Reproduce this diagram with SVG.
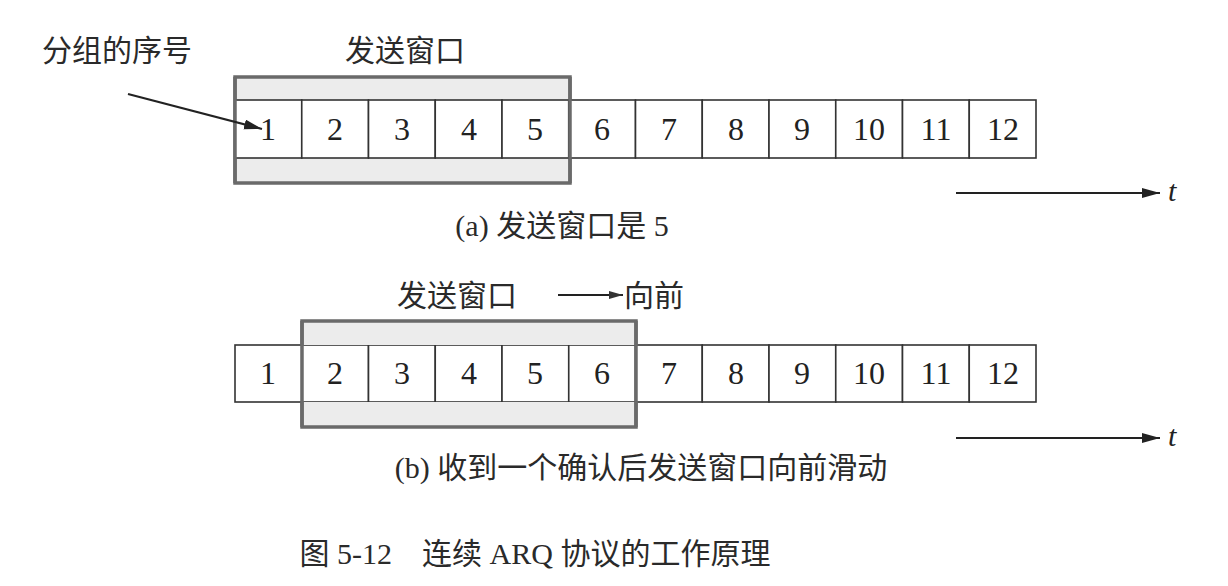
<svg xmlns="http://www.w3.org/2000/svg" width="1228" height="586" viewBox="0 0 1228 586">
<defs>
<style>
.cjk{font-family:"Liberation Serif","Noto Sans CJK SC",serif;font-size:30px;fill:#2a2a2a}
.num{font-family:"Liberation Serif",serif;font-size:32px;fill:#222;text-anchor:middle}
.cell{fill:#fff;stroke:#333;stroke-width:1.6}
.win{fill:#ececec;stroke:#6a6a6a;stroke-width:3.5}
.ln{stroke:#222;stroke-width:2.2;fill:none}
.t{font-family:"Liberation Serif",serif;font-style:italic;font-size:30px;fill:#222}
</style>
<marker id="ah" markerUnits="userSpaceOnUse" markerWidth="20" markerHeight="12" refX="18" refY="5" orient="auto">
<path d="M0,0 L18,5 L0,10 Z" fill="#222"/>
</marker>
<marker id="ahs" markerUnits="userSpaceOnUse" markerWidth="16" markerHeight="10" refX="14" refY="4" orient="auto">
<path d="M0,0 L14,4 L0,8 Z" fill="#333"/>
</marker>
</defs>
<rect width="1228" height="586" fill="#fff"/>

<g id="row-a">
<rect class="win" x="235" y="77" width="335" height="106"/>
<g id="cells-a">
<rect class="cell" x="235" y="100" width="66.75" height="58"/>
<rect class="cell" x="301.75" y="100" width="66.75" height="58"/>
<rect class="cell" x="368.5" y="100" width="66.75" height="58"/>
<rect class="cell" x="435.25" y="100" width="66.75" height="58"/>
<rect class="cell" x="502" y="100" width="66.75" height="58"/>
<rect class="cell" x="568.75" y="100" width="66.75" height="58"/>
<rect class="cell" x="635.5" y="100" width="66.75" height="58"/>
<rect class="cell" x="702.25" y="100" width="66.75" height="58"/>
<rect class="cell" x="769" y="100" width="66.75" height="58"/>
<rect class="cell" x="835.75" y="100" width="66.75" height="58"/>
<rect class="cell" x="902.5" y="100" width="66.75" height="58"/>
<rect class="cell" x="969.25" y="100" width="66.75" height="58"/>
</g>
<line x1="570" y1="77" x2="570" y2="183" stroke="#6a6a6a" stroke-width="3.5"/>
<line x1="235" y1="77" x2="235" y2="183" stroke="#6a6a6a" stroke-width="3.5"/>
<g id="nums-a">
<text class="num" x="268" y="140">1</text>
<text class="num" x="335" y="140">2</text>
<text class="num" x="402" y="140">3</text>
<text class="num" x="469" y="140">4</text>
<text class="num" x="535" y="140">5</text>
<text class="num" x="602" y="140">6</text>
<text class="num" x="669" y="140">7</text>
<text class="num" x="736" y="140">8</text>
<text class="num" x="802" y="140">9</text>
<text class="num" x="869" y="140">10</text>
<text class="num" x="936" y="140">11</text>
<text class="num" x="1003" y="140">12</text>
</g>
</g>

<g id="label-seq"><text class="cjk" x="117" y="61" text-anchor="middle">分组的序号</text></g>
<g id="label-win-a"><text class="cjk" x="405" y="61" text-anchor="middle">发送窗口</text></g>
<g id="caption-a"><text class="cjk" x="562" y="236" text-anchor="middle">(a) 发送窗口是 5</text></g>

<g id="row-b">
<g id="cells-b">
<rect class="cell" x="235" y="345" width="66.75" height="57"/>
<rect class="cell" x="301.75" y="345" width="66.75" height="57"/>
<rect class="cell" x="368.5" y="345" width="66.75" height="57"/>
<rect class="cell" x="435.25" y="345" width="66.75" height="57"/>
<rect class="cell" x="502" y="345" width="66.75" height="57"/>
<rect class="cell" x="568.75" y="345" width="66.75" height="57"/>
<rect class="cell" x="635.5" y="345" width="66.75" height="57"/>
<rect class="cell" x="702.25" y="345" width="66.75" height="57"/>
<rect class="cell" x="769" y="345" width="66.75" height="57"/>
<rect class="cell" x="835.75" y="345" width="66.75" height="57"/>
<rect class="cell" x="902.5" y="345" width="66.75" height="57"/>
<rect class="cell" x="969.25" y="345" width="66.75" height="57"/>
</g>
<path d="M302,345 V321 H636 V345 M302,402 V427 H636 V402" fill="#ececec" stroke="#6a6a6a" stroke-width="3.5"/>
<line x1="302" y1="321" x2="302" y2="427" stroke="#6a6a6a" stroke-width="3.5"/>
<line x1="636" y1="321" x2="636" y2="427" stroke="#6a6a6a" stroke-width="3.5"/>
<g id="nums-b">
<text class="num" x="268" y="384">1</text>
<text class="num" x="335" y="384">2</text>
<text class="num" x="402" y="384">3</text>
<text class="num" x="469" y="384">4</text>
<text class="num" x="535" y="384">5</text>
<text class="num" x="602" y="384">6</text>
<text class="num" x="669" y="384">7</text>
<text class="num" x="736" y="384">8</text>
<text class="num" x="802" y="384">9</text>
<text class="num" x="869" y="384">10</text>
<text class="num" x="936" y="384">11</text>
<text class="num" x="1003" y="384">12</text>
</g>
</g>

<g id="label-win-b"><text class="cjk" x="457" y="306" text-anchor="middle">发送窗口</text></g>
<g id="label-forward"><text class="cjk" x="624" y="306">向前</text></g>
<g id="caption-b"><text class="cjk" x="641" y="478" text-anchor="middle">(b) 收到一个确认后发送窗口向前滑动</text></g>
<g id="fig-caption"><text class="cjk" x="535" y="564" text-anchor="middle">图 5-12　连续 ARQ 协议的工作原理</text></g>

<g id="t-a"><text class="t" x="1168" y="201">t</text></g>
<g id="t-b"><text class="t" x="1168" y="446">t</text></g>

<g id="connectors">
<line class="ln" x1="128" y1="94" x2="262" y2="129" marker-end="url(#ah)"/>
<line class="ln" x1="956" y1="193" x2="1160" y2="193" marker-end="url(#ah)"/>
<line class="ln" x1="956" y1="438" x2="1160" y2="438" marker-end="url(#ah)"/>
<line class="ln" x1="558" y1="295" x2="623" y2="295" stroke-width="2.5" marker-end="url(#ahs)"/>
</g>
</svg>
